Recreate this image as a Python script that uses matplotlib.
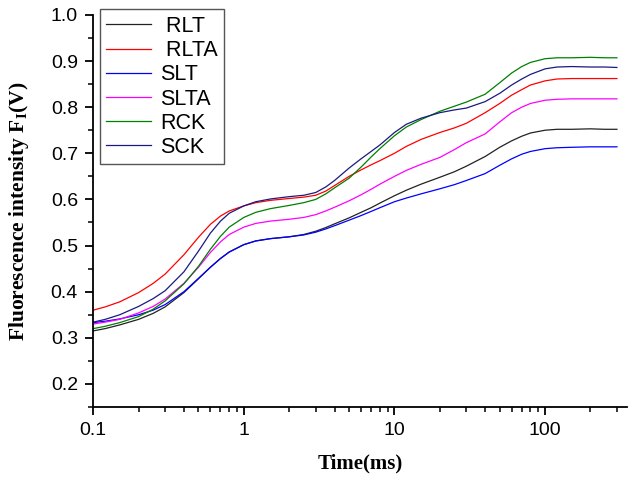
import matplotlib
matplotlib.use("Agg")
import matplotlib.pyplot as plt
from matplotlib.ticker import LogLocator, FixedLocator, MultipleLocator, NullFormatter

# time points (ms)
time_ms = [0.1, 0.12, 0.15, 0.2, 0.25, 0.3, 0.4, 0.5, 0.6, 0.7, 0.8, 1, 1.2, 1.5, 2, 2.5, 3, 3.5, 4, 5,
           6, 7, 8, 10, 12, 15, 20, 25, 30, 40, 50, 60, 70, 80, 100, 120, 150, 200, 250, 300]

# fluorescence values
rlt = [0.315, 0.320, 0.328, 0.340, 0.353, 0.367, 0.398, 0.428, 0.453, 0.472, 0.486, 0.502, 0.510, 0.515,
       0.519, 0.524, 0.531, 0.539, 0.547, 0.560, 0.572, 0.582, 0.592, 0.608, 0.620, 0.633, 0.648, 0.660,
       0.672, 0.693, 0.713, 0.727, 0.737, 0.744, 0.750, 0.752, 0.752, 0.753, 0.752, 0.752]
rlta = [0.360, 0.367, 0.378, 0.398, 0.418, 0.438, 0.480, 0.518, 0.546, 0.564, 0.575, 0.586, 0.593, 0.598,
        0.602, 0.605, 0.609, 0.618, 0.630, 0.650, 0.664, 0.675, 0.684, 0.700, 0.715, 0.730, 0.745, 0.755,
        0.765, 0.788, 0.808, 0.826, 0.838, 0.848, 0.857, 0.861, 0.862, 0.862, 0.862, 0.862]
slt = [0.333, 0.336, 0.341, 0.350, 0.360, 0.372, 0.400, 0.429, 0.453, 0.472, 0.486, 0.502, 0.510, 0.515,
       0.519, 0.523, 0.529, 0.536, 0.543, 0.555, 0.565, 0.574, 0.582, 0.595, 0.603, 0.612, 0.623, 0.632,
       0.641, 0.656, 0.674, 0.688, 0.698, 0.704, 0.710, 0.712, 0.713, 0.714, 0.714, 0.714]
slta = [0.330, 0.334, 0.340, 0.354, 0.368, 0.384, 0.418, 0.453, 0.485, 0.508, 0.524, 0.540, 0.548, 0.553,
        0.557, 0.561, 0.567, 0.575, 0.583, 0.597, 0.610, 0.622, 0.633, 0.650, 0.663, 0.676, 0.691, 0.708,
        0.723, 0.742, 0.768, 0.788, 0.800, 0.808, 0.815, 0.817, 0.818, 0.818, 0.818, 0.818]
rck = [0.320, 0.325, 0.333, 0.346, 0.362, 0.380, 0.417, 0.455, 0.492, 0.520, 0.540, 0.561, 0.572, 0.580,
       0.587, 0.593, 0.600, 0.612, 0.625, 0.646, 0.670, 0.692, 0.710, 0.738, 0.757, 0.773, 0.791, 0.802,
       0.811, 0.828, 0.853, 0.874, 0.888, 0.897, 0.905, 0.907, 0.907, 0.908, 0.907, 0.907]
sck = [0.334, 0.340, 0.350, 0.368, 0.385, 0.402, 0.443, 0.488, 0.527, 0.553, 0.570, 0.586, 0.595, 0.601,
       0.606, 0.609, 0.615, 0.627, 0.641, 0.668, 0.688, 0.704, 0.718, 0.745, 0.763, 0.776, 0.788, 0.794,
       0.798, 0.812, 0.830, 0.848, 0.861, 0.871, 0.883, 0.887, 0.888, 0.887, 0.887, 0.886]

labels = [" RLT", " RLTA", "SLT", "SLTA", "RCK", "SCK"]
series = [rlt, rlta, slt, slta, rck, sck]
colors = ["#222222", "#ff0000", "#0000ff", "#ff00ff", "#008000", "#1a1a80"]

plt.rcParams["mathtext.fontset"] = "custom"
plt.rcParams["mathtext.rm"] = "Liberation Serif:bold"
plt.rcParams["mathtext.it"] = "Liberation Serif:bold"
plt.rcParams["mathtext.bf"] = "Liberation Serif:bold"

fig = plt.figure(figsize=(6.34, 4.8), dpi=100)
ax = fig.add_axes([0.147, 0.152, 0.842, 0.817])

for y, c, lab in zip(series, colors, labels):
    ax.plot(time_ms, y, color=c, lw=0.9, label=lab)

ax.set_xscale("log")
ax.set_xlim(0.1, 350)
ax.set_ylim(0.15, 1.0)

ax.xaxis.set_major_locator(FixedLocator([0.1, 1, 10, 100]))
ax.xaxis.set_minor_locator(LogLocator(base=10, subs=range(2, 10), numticks=20))
ax.xaxis.set_minor_formatter(NullFormatter())
ax.set_xticklabels(["0.1", "1", "10", "100"])
ax.yaxis.set_major_locator(FixedLocator([0.2, 0.3, 0.4, 0.5, 0.6, 0.7, 0.8, 0.9, 1.0]))
ax.yaxis.set_minor_locator(MultipleLocator(0.05))

ax.spines["top"].set_visible(False)
ax.spines["right"].set_visible(False)
for s in ["left", "bottom"]:
    ax.spines[s].set_linewidth(1.3)

ax.tick_params(which="major", direction="out", length=6, width=1.3, labelsize=14, pad=5)
ax.tick_params(which="minor", direction="out", length=3.5, width=1.1)
for t in ax.get_xticklabels() + ax.get_yticklabels():
    t.set_fontfamily("Liberation Sans")

ax.set_xlabel("Time(ms)", fontfamily="Liberation Serif", fontweight="bold", fontsize=15, labelpad=10)
ax.set_ylabel(r"Fluorescence intensity F$_\mathregular{I}$(V)", fontfamily="Liberation Serif",
              fontweight="bold", fontsize=15.5, labelpad=14)

leg = ax.legend(loc="upper left", bbox_to_anchor=(0.004, 1.025), fancybox=False, framealpha=1,
                edgecolor="#555555", prop={"family": "Liberation Sans", "size": 15.5},
                handlelength=2.1, labelspacing=0.15, borderpad=0.3, handletextpad=0.4,
                borderaxespad=0.2)
leg.get_frame().set_linewidth(1.0)

fig.savefig("out.png", dpi=100)
